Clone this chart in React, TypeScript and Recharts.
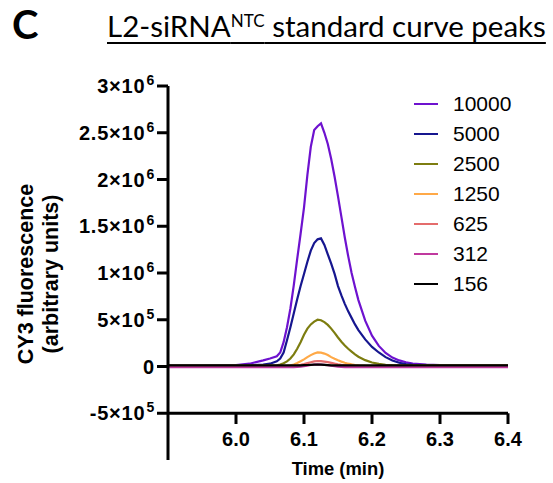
import React from 'react'
import { LineChart, Line, XAxis, YAxis, Legend, ReferenceLine } from 'recharts'

// Retention time (min)
const times = [
  5.9, 5.95, 6.0, 6.02, 6.04, 6.05, 6.06, 6.065, 6.07, 6.075, 6.08, 6.085,
  6.09, 6.095, 6.1, 6.105, 6.11, 6.115, 6.12, 6.125, 6.13, 6.135, 6.14, 6.145,
  6.15, 6.155, 6.16, 6.165, 6.17, 6.175, 6.18, 6.19, 6.2, 6.21, 6.22, 6.23,
  6.24, 6.25, 6.26, 6.28, 6.3, 6.35, 6.4,
]

// CY3 fluorescence per standard (arbitrary units)
const conc10000 = [
  1e4, 1e4, 1.5e4, 3e4, 6.5e4, 8.5e4, 1.1e5, 1.5e5, 2.6e5, 4.2e5, 6.2e5, 8.7e5,
  1.15e6, 1.42e6, 1.7e6, 2.05e6, 2.35e6, 2.53e6, 2.57e6, 2.6e6, 2.5e6, 2.38e6,
  2.22e6, 2.03e6, 1.82e6, 1.6e6, 1.38e6, 1.18e6, 1.0e6, 8.5e5, 7.1e5, 4.9e5,
  3.3e5, 2.2e5, 1.45e5, 9.5e4, 6.5e4, 4.5e4, 3.2e4, 2e4, 1.6e4, 1.5e4, 1.5e4,
]
const conc5000 = [
  1e4, 1e4, 1e4, 1.2e4, 2e4, 3e4, 5.5e4, 8.5e4, 1.5e5, 2.8e5, 4.2e5, 5.7e5,
  7.2e5, 8.6e5, 9.9e5, 1.12e6, 1.24e6, 1.32e6, 1.36e6, 1.37e6, 1.3e6, 1.2e6,
  1.1e6, 9.9e5, 8.6e5, 7.6e5, 6.7e5, 5.9e5, 5.2e5, 4.5e5, 3.9e5, 2.9e5,
  2.1e5, 1.5e5, 1.0e5, 6.5e4, 4e4, 2.5e4, 1.8e4, 1.3e4, 1.2e4, 1.2e4, 1.2e4,
]
const conc2500 = [
  1e4, 1e4, 1e4, 1e4, 1e4, 1e4, 1.3e4, 2e4, 3.5e4, 5.5e4, 8.5e4, 1.3e5,
  1.9e5, 2.6e5, 3.4e5, 4.05e5, 4.5e5, 4.8e5, 5.0e5, 4.95e5, 4.75e5, 4.45e5,
  4.05e5, 3.6e5, 3.1e5, 2.65e5, 2.25e5, 1.9e5, 1.6e5, 1.3e5, 1.05e5, 6.8e4,
  4.3e4, 2.8e4, 1.9e4, 1.4e4, 1.1e4, 1.1e4, 1.1e4, 1.1e4, 1.1e4, 1.1e4, 1.1e4,
]
const conc1250 = [
  8e3, 8e3, 8e3, 8e3, 8e3, 8e3, 8e3, 8e3, 8e3, 8e3, 1.2e4, 2.2e4,
  3.8e4, 5.6e4, 7.6e4, 1.0e5, 1.22e5, 1.4e5, 1.5e5, 1.48e5, 1.38e5, 1.22e5,
  1.0e5, 8.2e4, 6.6e4, 5.2e4, 4e4, 3e4, 2.2e4, 1.6e4, 1.2e4, 9e3,
  8e3, 8e3, 8e3, 8e3, 8e3, 8e3, 8e3, 8e3, 8e3, 8e3, 8e3,
]
const conc625 = [
  4e3, 4e3, 4e3, 4e3, 4e3, 4e3, 4e3, 4e3, 4e3, 4e3, 4e3, 4e3,
  1.0e4, 1.7e4, 2.6e4, 3.6e4, 4.6e4, 5.4e4, 5.9e4, 5.8e4, 5.3e4, 4.6e4,
  3.8e4, 3.0e4, 2.3e4, 1.7e4, 1.3e4, 9e3, 7e3, 5e3, 4e3, 4e3,
  4e3, 4e3, 4e3, 4e3, 4e3, 4e3, 4e3, 4e3, 4e3, 4e3, 4e3,
]
const conc312 = [
  -8e3, -8e3, -8e3, -8e3, -8e3, -8e3, -8e3, -8e3, -8e3, -8e3, -8e3, -8e3,
  -5e3, -1e3, 4e3, 1e4, 1.6e4, 2e4, 2.2e4, 2.1e4, 1.8e4, 1.3e4,
  8e3, 3e3, -1e3, -4e3, -6e3, -7e3, -8e3, -8e3, -8e3, -8e3,
  -8e3, -8e3, -8e3, -8e3, -8e3, -8e3, -8e3, -8e3, -8e3, -8e3, -8e3,
]
const conc156 = [
  1.2e4, 1.2e4, 1.2e4, 1.2e4, 1.2e4, 1.2e4, 1.2e4, 1.2e4, 1.2e4, 1.2e4, 1.2e4, 1.2e4,
  1.2e4, 1.2e4, 1.4e4, 1.6e4, 1.8e4, 1.9e4, 2e4, 1.9e4, 1.7e4, 1.5e4,
  1.3e4, 1.2e4, 1.2e4, 1.2e4, 1.2e4, 1.2e4, 1.2e4, 1.2e4, 1.2e4, 1.2e4,
  1.2e4, 1.2e4, 1.2e4, 1.2e4, 1.2e4, 1.2e4, 1.2e4, 1.2e4, 1.2e4, 1.2e4, 1.2e4,
]

const seriesNames = ['10000', '5000', '2500', '1250', '625', '312', '156']
const seriesValues = [conc10000, conc5000, conc2500, conc1250, conc625, conc312, conc156]
const seriesColors = ['#6e12cf', '#16168f', '#7d7d10', '#ffa947', '#e46c6c', '#c0399f', '#000000']

const xTicks = [6.0, 6.1, 6.2, 6.3, 6.4]
const yTicks = [-5e5, 0, 5e5, 1e6, 1.5e6, 2e6, 2.5e6, 3e6]

const AXIS_FONT = '"Liberation Sans", Arial, sans-serif'

const data = times.map((t, i) => {
  const row: Record<string, number> = { t }
  seriesNames.forEach((name, s) => {
    row[name] = seriesValues[s][i]
  })
  return row
})

// 2.5e6 -> "2.5×10" + superscript "6"
function sciParts(v: number) {
  if (v === 0) return { base: '0', exp: '' }
  const exp = Math.floor(Math.log10(Math.abs(v)))
  const mant = Math.round((v / Math.pow(10, exp)) * 100) / 100
  return { base: `${mant}×10`, exp: String(exp) }
}

const YTick = (props: any) => {
  const { x, y, payload } = props
  const { base, exp } = sciParts(payload.value)
  return (
    <text
      x={x}
      y={y}
      dy={7}
      textAnchor='end'
      fontFamily={AXIS_FONT}
      fontWeight='bold'
      fontSize={20}
      letterSpacing={0.8}
      fill='#000'
    >
      {base}
      {exp && (
        <tspan dx={1} dy={-8} fontSize={14}>
          {exp}
        </tspan>
      )}
    </text>
  )
}

const XTick = (props: any) => {
  const { x, y, payload } = props
  return (
    <text
      x={x}
      y={y}
      dy={-14}
      textAnchor='middle'
      fontFamily={AXIS_FONT}
      fontWeight='bold'
      fontSize={20}
      fill='#000'
    >
      {Number(payload.value).toFixed(1)}
    </text>
  )
}

const YLabel = (props: any) => {
  const { viewBox } = props
  const cy = viewBox.y + viewBox.height / 2 + 1
  const lines = [
    { text: 'CY3 fluorescence', x: 33 },
    { text: '(arbitrary units)', x: 57.5 },
  ]
  return (
    <g>
      {lines.map(l => (
        <text
          key={l.text}
          x={l.x}
          y={cy}
          transform={`rotate(-90, ${l.x}, ${cy})`}
          textAnchor='middle'
          fontFamily={AXIS_FONT}
          fontWeight='bold'
          fontSize={21.5}
          fill='#000'
        >
          {l.text}
        </text>
      ))}
    </g>
  )
}

const XLabel = (props: any) => {
  const { viewBox } = props
  return (
    <text
      x={viewBox.x + viewBox.width / 2}
      y={viewBox.y + 15}
      textAnchor='middle'
      fontFamily={AXIS_FONT}
      fontWeight='bold'
      fontSize={18.4}
      fill='#000'
    >
      Time (min)
    </text>
  )
}

// Legend rows follow the series order (largest standard first)
const renderLegend = () => (
  <div style={{ fontFamily: AXIS_FONT, fontSize: 21, color: '#000' }}>
    {seriesNames.map((name, i) => (
      <div
        key={name}
        style={{ display: 'flex', alignItems: 'center', height: 30 }}
      >
        <span
          style={{
            display: 'inline-block',
            width: 24,
            height: 2,
            background: seriesColors[i],
            marginRight: 15,
          }}
        />
        <span>{name}</span>
      </div>
    ))}
  </div>
)

export default function App() {
  return (
    <div
      style={{
        position: 'absolute',
        left: 0,
        top: 0,
        width: 553,
        height: 483,
        background: '#fff',
      }}
    >
      <div
        style={{
          position: 'absolute',
          left: 12,
          top: 4,
          fontFamily: 'Lato, sans-serif',
          fontWeight: 700,
          fontSize: 40,
          lineHeight: 1,
        }}
      >
        C
      </div>
      <div
        style={{
          position: 'absolute',
          left: 107,
          top: 11,
          fontFamily: 'Lato, sans-serif',
          fontSize: 29.5,
          lineHeight: 1,
          whiteSpace: 'nowrap',
          textDecoration: 'underline',
          textUnderlineOffset: 5,
        }}
      >
        L2-siRNA
        <span style={{ fontSize: 17, verticalAlign: 10 }}>NTC</span> standard curve
        peaks
      </div>
      <LineChart
        width={553}
        height={483}
        data={data}
        margin={{ top: 86, right: 45, bottom: 0, left: 0 }}
      >
        <XAxis
          type='number'
          dataKey='t'
          domain={[5.9, 6.4]}
          ticks={xTicks}
          allowDataOverflow
          height={23}
          axisLine={false}
          tickLine={false}
          tickSize={0}
          tickMargin={0}
          tick={XTick}
          label={XLabel}
        />
        <YAxis
          type='number'
          domain={[-1e6, 3e6]}
          ticks={yTicks}
          allowDataOverflow
          width={168}
          axisLine={{ stroke: '#000', strokeWidth: 3 }}
          tickLine={{ stroke: '#000', strokeWidth: 3 }}
          tickSize={11}
          tickMargin={2}
          tick={YTick}
          label={YLabel}
        />
        <ReferenceLine y={-5e5} stroke='#000' strokeWidth={3} />
        {xTicks.map(v => (
          <ReferenceLine
            key={v}
            segment={[
              { x: v, y: -5e5 },
              { x: v, y: -6.15e5 },
            ]}
            stroke='#000'
            strokeWidth={3}
          />
        ))}
        <Legend
          layout='vertical'
          align='center'
          verticalAlign='middle'
          content={renderLegend}
          wrapperStyle={{ left: 414, top: 89, width: 120, height: 215 }}
        />
        {seriesNames.map((name, i) => (
          <Line
            key={name}
            type='linear'
            dataKey={name}
            name={name}
            stroke={seriesColors[i]}
            strokeWidth={2.2}
            dot={false}
            isAnimationActive={false}
          />
        ))}
      </LineChart>
    </div>
  )
}
